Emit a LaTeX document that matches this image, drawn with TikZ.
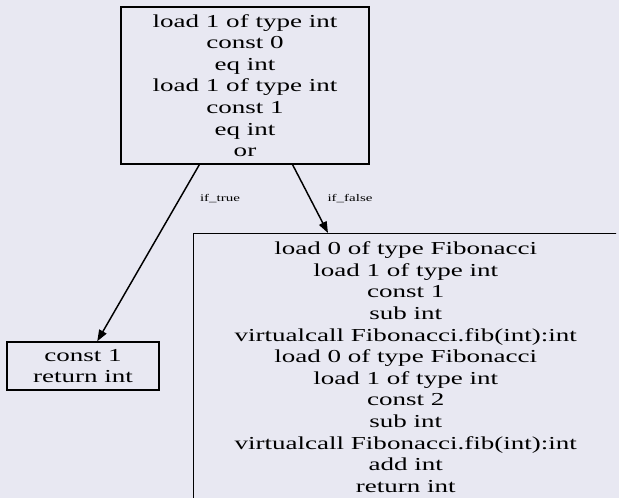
\documentclass[tikz,border=0pt]{standalone}
\usepackage{fontspec}
\setmainfont{Liberation Serif}[FakeStretch=1.48]
\usetikzlibrary{arrows.meta,calc}
\definecolor{canvas}{RGB}{232,232,242}
\begin{document}
\begin{tikzpicture}[x=0.75pt,y=-0.75pt,
  stmt/.style={draw=black, line width=1.1pt, align=center, inner sep=0pt,
    font=\fontsize{13.7}{16.2}\selectfont},
  lbl/.style={font=\fontsize{7.6}{9}\selectfont, inner sep=0pt},
  flow/.style={-{Triangle[length=8.5pt,width=6.2pt]}, line width=1.1pt}]
  % canvas
  \fill[canvas] (0,0) rectangle (619,498);
  \useasboundingbox (0,0) rectangle (619,498);

  % condition block
  \node[stmt, minimum width=186pt, minimum height=117.75pt] (t) at (245,85.5)
    {load 1 of type int\\const 0\\eq int\\load 1 of type int\\const 1\\eq int\\or};

  % true branch
  \node[stmt, minimum width=114pt, minimum height=36pt] (s) at (83,366)
    {const 1\\return int};

  % false branch (runs past the right and bottom edges)
  \begin{scope}
    \clip (0,0) rectangle (616,498);
    \node[stmt, anchor=north west, minimum width=318pt, minimum height=200pt] (b) at (193,233)
      {load 0 of type Fibonacci\\load 1 of type int\\const 1\\sub int\\virtualcall Fibonacci.fib(int):int\\load 0 of type Fibonacci\\load 1 of type int\\const 2\\sub int\\virtualcall Fibonacci.fib(int):int\\add int\\return int};
  \end{scope}

  % branches
  \draw[flow] (t) -- (s);
  \draw[flow] (t.-59.6) -- ($(b.north west)+(135,0)$);
  \node[lbl] (lt) at (220,199) {if\_true};
  \node[lbl] (lf) at (350,199) {if\_false};
\end{tikzpicture}
\end{document}
